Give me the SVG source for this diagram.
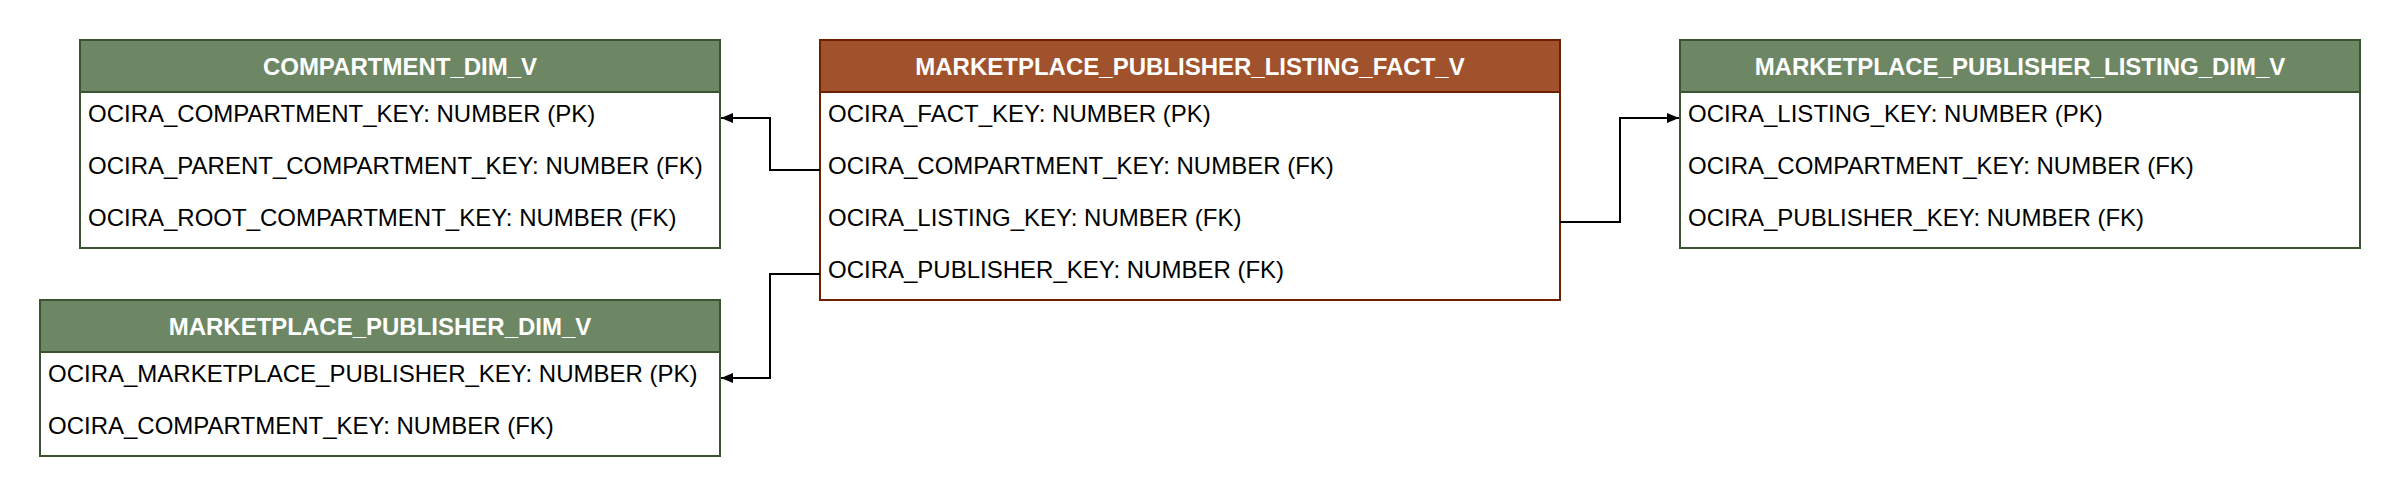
<svg xmlns="http://www.w3.org/2000/svg" width="2400" height="496" viewBox="0 0 2400 496">
<style>
.g-head{fill:#6d8764;stroke:#3a5431;stroke-width:2}
.g-body{fill:#ffffff;stroke:#3a5431;stroke-width:2}
.b-head{fill:#a0522d;stroke:#6d1f00;stroke-width:2}
.b-body{fill:#ffffff;stroke:#6d1f00;stroke-width:2}
.title{font-family:"Liberation Sans",Arial,sans-serif;font-size:24px;font-weight:bold;fill:#ffffff;text-anchor:middle}
.row{font-family:"Liberation Sans",Arial,sans-serif;font-size:24px;fill:#000000}
.edge{fill:none;stroke:#000000;stroke-width:2}
</style>
<defs>
<marker id="arrow" viewBox="0 0 12 10" refX="12" refY="5" markerWidth="12" markerHeight="10" markerUnits="userSpaceOnUse" orient="auto">
<path d="M0,0 L12,5 L0,10 Z" fill="#000000"/>
</marker>
</defs>
<rect width="2400" height="496" fill="#ffffff"/>
<g id="compartment_dim_v">
<rect class="g-body" x="80" y="40" width="640" height="208"/>
<rect class="g-head" x="80" y="40" width="640" height="52"/>
<text class="title" x="400" y="74.5">COMPARTMENT_DIM_V</text>
<text class="row" x="88" y="122">OCIRA_COMPARTMENT_KEY: NUMBER (PK)</text>
<text class="row" x="88" y="174">OCIRA_PARENT_COMPARTMENT_KEY: NUMBER (FK)</text>
<text class="row" x="88" y="226">OCIRA_ROOT_COMPARTMENT_KEY: NUMBER (FK)</text>
</g>
<g id="marketplace_publisher_dim_v">
<rect class="g-body" x="40" y="300" width="680" height="156"/>
<rect class="g-head" x="40" y="300" width="680" height="52"/>
<text class="title" x="380" y="334.5">MARKETPLACE_PUBLISHER_DIM_V</text>
<text class="row" x="48" y="382">OCIRA_MARKETPLACE_PUBLISHER_KEY: NUMBER (PK)</text>
<text class="row" x="48" y="434">OCIRA_COMPARTMENT_KEY: NUMBER (FK)</text>
</g>
<g id="marketplace_publisher_listing_fact_v">
<rect class="b-body" x="820" y="40" width="740" height="260"/>
<rect class="b-head" x="820" y="40" width="740" height="52"/>
<text class="title" x="1190" y="74.5">MARKETPLACE_PUBLISHER_LISTING_FACT_V</text>
<text class="row" x="828" y="122">OCIRA_FACT_KEY: NUMBER (PK)</text>
<text class="row" x="828" y="174">OCIRA_COMPARTMENT_KEY: NUMBER (FK)</text>
<text class="row" x="828" y="226">OCIRA_LISTING_KEY: NUMBER (FK)</text>
<text class="row" x="828" y="278">OCIRA_PUBLISHER_KEY: NUMBER (FK)</text>
</g>
<g id="marketplace_publisher_listing_dim_v">
<rect class="g-body" x="1680" y="40" width="680" height="208"/>
<rect class="g-head" x="1680" y="40" width="680" height="52"/>
<text class="title" x="2020" y="74.5">MARKETPLACE_PUBLISHER_LISTING_DIM_V</text>
<text class="row" x="1688" y="122">OCIRA_LISTING_KEY: NUMBER (PK)</text>
<text class="row" x="1688" y="174">OCIRA_COMPARTMENT_KEY: NUMBER (FK)</text>
<text class="row" x="1688" y="226">OCIRA_PUBLISHER_KEY: NUMBER (FK)</text>
</g>
<g id="connectors">
<path class="edge" d="M820,170 L770,170 L770,118 L721,118" marker-end="url(#arrow)"/>
<path class="edge" d="M820,274 L770,274 L770,378 L721,378" marker-end="url(#arrow)"/>
<path class="edge" d="M1560,222 L1620,222 L1620,118 L1679,118" marker-end="url(#arrow)"/>
</g>
</svg>
